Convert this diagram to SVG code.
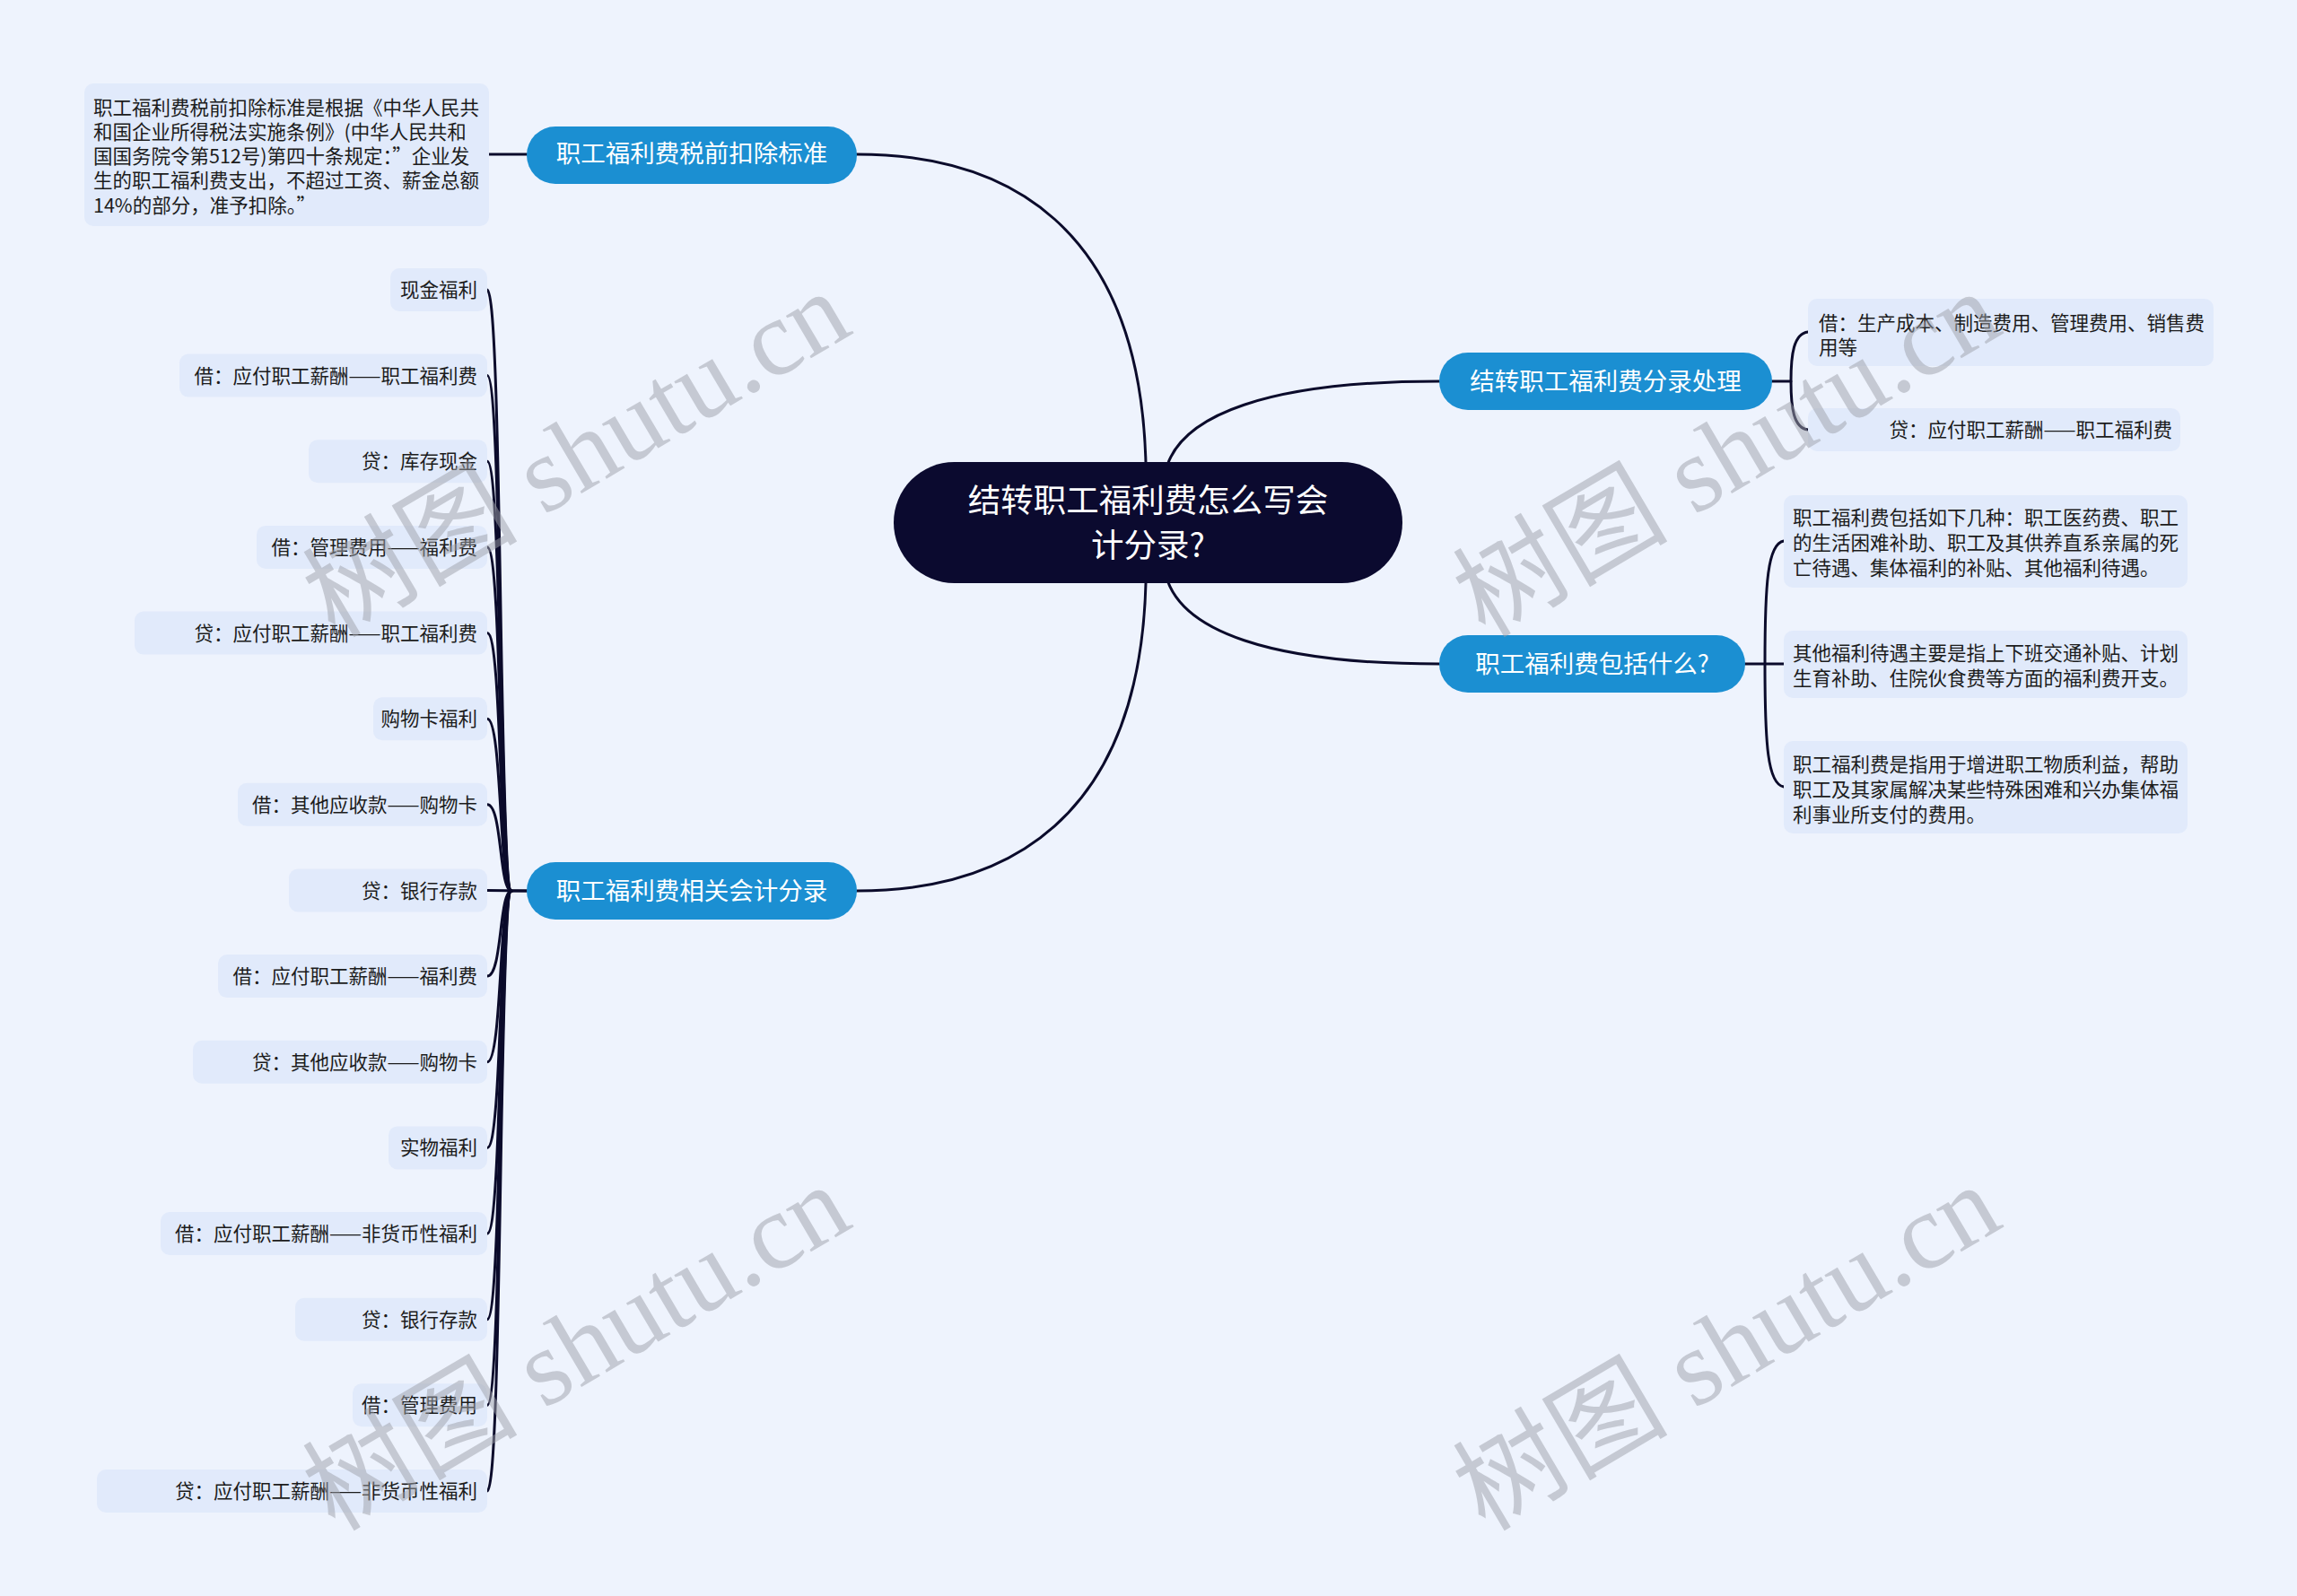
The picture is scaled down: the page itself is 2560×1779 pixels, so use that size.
<svg xmlns="http://www.w3.org/2000/svg" width="2560" height="1779" viewBox="0 0 2560 1779">
<style>
.bg{fill:#eef3fd}
.link{fill:none;stroke:#0b0b2b;stroke-width:3;stroke-linecap:round}
.root{fill:#0b0a2f}
.main{fill:#1b8fd2}
.leaf{fill:#e1eafb}
.rt{font-family:"Noto Sans CJK SC","Noto Sans",sans-serif;font-size:36.5px;fill:#ffffff;text-anchor:middle}
.mt{font-family:"Noto Sans CJK SC","Noto Sans",sans-serif;font-size:27.5px;fill:#ffffff;text-anchor:middle}
.lt{font-family:"Noto Sans CJK SC","Noto Sans",sans-serif;font-size:21.5px;fill:#1c1c1c}
.le{text-anchor:end}
.wm{font-family:"Liberation Serif","Noto Sans CJK SC",serif;font-size:120px;fill:#9ea1aa;opacity:0.5}
</style>
<rect class="bg" x="0" y="0" width="2560" height="1779"/>

<g id="connectors">
  <path class="link" d="M955,172 C1120,172 1270,250 1277,516 L1277,560"/>
  <path class="link" d="M955,993 C1120,993 1270,915 1277,650 L1277,610"/>
  <path class="link" d="M1604,425 C1420,425 1310,460 1298,530 L1296,560"/>
  <path class="link" d="M1604,740 C1420,740 1310,705 1298,635 L1296,610"/>
  <path class="link" d="M545,172 L587,172"/>
  <path class="link" d="M1975,425 L1996,425"/>
  <path class="link" d="M2015,370 C1999,372 1996,395 1996,425 C1996,455 1999,477 2015,479"/>
  <path class="link" d="M1945,740 L1988,740"/>
  <path class="link" d="M1988,603 C1970,606 1967,650 1967,740 C1967,830 1970,874 1988,877"/>
  <path class="link" d="M543,323 C560,323 556,993 570,993 L587,993"/>
  <path class="link" d="M543,418.6 C560,418.6 556,993 570,993"/>
  <path class="link" d="M543,514.3 C560,514.3 556,993 570,993"/>
  <path class="link" d="M543,609.9 C560,609.9 556,993 570,993"/>
  <path class="link" d="M543,705.6 C560,705.6 556,993 570,993"/>
  <path class="link" d="M543,801.2 C560,801.2 556,993 570,993"/>
  <path class="link" d="M543,896.8 C560,896.8 556,993 570,993"/>
  <path class="link" d="M543,992.5 L587,993"/>
  <path class="link" d="M543,1088.1 C560,1088.1 556,993 570,993"/>
  <path class="link" d="M543,1183.8 C560,1183.8 556,993 570,993"/>
  <path class="link" d="M543,1279.4 C560,1279.4 556,993 570,993"/>
  <path class="link" d="M543,1375 C560,1375 556,993 570,993"/>
  <path class="link" d="M543,1470.7 C560,1470.7 556,993 570,993"/>
  <path class="link" d="M543,1566.3 C560,1566.3 556,993 570,993"/>
  <path class="link" d="M543,1662 C560,1662 556,993 570,993"/>
</g>

<g id="root">
  <rect class="root" x="996" y="515" width="567" height="135" rx="67.5"/>
  <text class="rt" x="1279.5" y="570.5">结转职工福利费怎么写会</text>
  <text class="rt" x="1279.5" y="620.5">计分录?</text>
</g>

<g id="b1">
  <rect class="main" x="587" y="141" width="368" height="64" rx="32"/>
  <text class="mt" x="771" y="181">职工福利费税前扣除标准</text>
</g>
<g id="b1-1">
  <rect class="leaf" x="94" y="93" width="451" height="159" rx="10"/>
  <text class="lt" x="104" y="127.5">职工福利费税前扣除标准是根据《中华人民共</text>
  <text class="lt" x="104" y="154.8">和国企业所得税法实施条例》(中华人民共和</text>
  <text class="lt" x="104" y="182">国国务院令第512号)第四十条规定：”企业发</text>
  <text class="lt" x="104" y="209.3">生的职工福利费支出，不超过工资、薪金总额</text>
  <text class="lt" x="104" y="236.5">14%的部分，准予扣除。”</text>
</g>

<g id="b2">
  <rect class="main" x="587" y="961" width="368" height="64" rx="32"/>
  <text class="mt" x="771" y="1003">职工福利费相关会计分录</text>
</g>
<g id="b2-1"><rect class="leaf" x="435" y="299" width="108" height="48" rx="10"/><text class="lt le" x="532" y="331">现金福利</text></g>
<g id="b2-2"><rect class="leaf" x="200" y="394.6" width="343" height="48" rx="10"/><text class="lt le" x="532" y="426.6">借：应付职工薪酬——职工福利费</text></g>
<g id="b2-3"><rect class="leaf" x="344" y="490.3" width="199" height="48" rx="10"/><text class="lt le" x="532" y="522.3">贷：库存现金</text></g>
<g id="b2-4"><rect class="leaf" x="286" y="585.9" width="257" height="48" rx="10"/><text class="lt le" x="532" y="617.9">借：管理费用——福利费</text></g>
<g id="b2-5"><rect class="leaf" x="150" y="681.6" width="393" height="48" rx="10"/><text class="lt le" x="532" y="713.6">贷：应付职工薪酬——职工福利费</text></g>
<g id="b2-6"><rect class="leaf" x="416" y="777.2" width="127" height="48" rx="10"/><text class="lt le" x="532" y="809.2">购物卡福利</text></g>
<g id="b2-7"><rect class="leaf" x="265" y="872.8" width="278" height="48" rx="10"/><text class="lt le" x="532" y="904.8">借：其他应收款——购物卡</text></g>
<g id="b2-8"><rect class="leaf" x="322" y="968.5" width="221" height="48" rx="10"/><text class="lt le" x="532" y="1000.5">贷：银行存款</text></g>
<g id="b2-9"><rect class="leaf" x="243" y="1064.1" width="300" height="48" rx="10"/><text class="lt le" x="532" y="1096.1">借：应付职工薪酬——福利费</text></g>
<g id="b2-10"><rect class="leaf" x="215" y="1159.8" width="328" height="48" rx="10"/><text class="lt le" x="532" y="1191.8">贷：其他应收款——购物卡</text></g>
<g id="b2-11"><rect class="leaf" x="433" y="1255.4" width="110" height="48" rx="10"/><text class="lt le" x="532" y="1287.4">实物福利</text></g>
<g id="b2-12"><rect class="leaf" x="179" y="1351" width="364" height="48" rx="10"/><text class="lt le" x="532" y="1383">借：应付职工薪酬——非货币性福利</text></g>
<g id="b2-13"><rect class="leaf" x="329" y="1446.7" width="214" height="48" rx="10"/><text class="lt le" x="532" y="1478.7">贷：银行存款</text></g>
<g id="b2-14"><rect class="leaf" x="393" y="1542.3" width="150" height="48" rx="10"/><text class="lt le" x="532" y="1574.3">借：管理费用</text></g>
<g id="b2-15"><rect class="leaf" x="108" y="1638" width="435" height="48" rx="10"/><text class="lt le" x="532" y="1670">贷：应付职工薪酬——非货币性福利</text></g>

<g id="r1">
  <rect class="main" x="1604" y="393" width="371" height="64" rx="32"/>
  <text class="mt" x="1789.5" y="435">结转职工福利费分录处理</text>
</g>
<g id="r1-1">
  <rect class="leaf" x="2015" y="333" width="452" height="75" rx="10"/>
  <text class="lt" x="2027" y="368">借：生产成本、制造费用、管理费用、销售费</text>
  <text class="lt" x="2027" y="395">用等</text>
</g>
<g id="r1-2">
  <rect class="leaf" x="2015" y="455" width="415" height="48" rx="10"/>
  <text class="lt le" x="2421" y="487">贷：应付职工薪酬——职工福利费</text>
</g>

<g id="r2">
  <rect class="main" x="1604" y="708" width="341" height="64" rx="32"/>
  <text class="mt" x="1774.5" y="750">职工福利费包括什么?</text>
</g>
<g id="r2-1">
  <rect class="leaf" x="1988" y="552" width="450" height="103" rx="10"/>
  <text class="lt" x="1998" y="585">职工福利费包括如下几种：职工医药费、职工</text>
  <text class="lt" x="1998" y="613">的生活困难补助、职工及其供养直系亲属的死</text>
  <text class="lt" x="1998" y="641">亡待遇、集体福利的补贴、其他福利待遇。</text>
</g>
<g id="r2-2">
  <rect class="leaf" x="1988" y="703" width="450" height="75" rx="10"/>
  <text class="lt" x="1998" y="736">其他福利待遇主要是指上下班交通补贴、计划</text>
  <text class="lt" x="1998" y="764">生育补助、住院伙食费等方面的福利费开支。</text>
</g>
<g id="r2-3">
  <rect class="leaf" x="1988" y="826" width="450" height="103" rx="10"/>
  <text class="lt" x="1998" y="860">职工福利费是指用于增进职工物质利益，帮助</text>
  <text class="lt" x="1998" y="888">职工及其家属解决某些特殊困难和兴办集体福</text>
  <text class="lt" x="1998" y="916">利事业所支付的费用。</text>
</g>

<g id="watermarks">
  <text class="wm" transform="translate(373,712) rotate(-30.5)">树图 shutu.cn</text>
  <text class="wm" transform="translate(1655,712) rotate(-30.5)">树图 shutu.cn</text>
  <text class="wm" transform="translate(373,1708) rotate(-30.5)">树图 shutu.cn</text>
  <text class="wm" transform="translate(1655,1708) rotate(-30.5)">树图 shutu.cn</text>
</g>
</svg>
